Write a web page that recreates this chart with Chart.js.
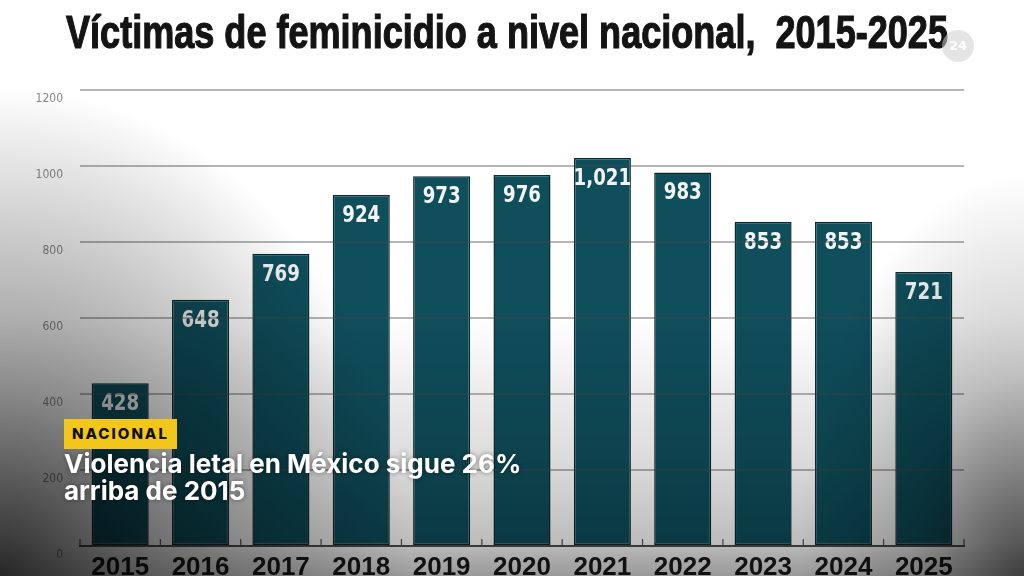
<!DOCTYPE html>
<html>
<head>
<meta charset="utf-8">
<script src="https://cdn.jsdelivr.net/npm/chart.js@4.4.1/dist/chart.umd.min.js"></script>
<style>
	html, body { margin: 0; padding: 0; background: #fff; }
	#wrap { position: relative; width: 1024px; height: 576px; overflow: hidden; background: #fff; }
	#chart { position: absolute; left: 0; top: 0; }
	#title {
		position: absolute; left: 66px; top: 5px; white-space: pre;
		font-family: "Liberation Sans Narrow", "Liberation Sans", sans-serif;
		font-weight: bold; font-size: 46px; color: #141414; transform-origin: 0 0;
		-webkit-text-stroke: 1.2px #141414;
	}
	#logo {
		position: absolute; left: 942px; top: 30px; width: 32px; height: 32px; border-radius: 50%;
		background: rgba(205,205,205,0.55); color: rgba(255,255,255,0.95);
		font: bold 13px "DejaVu Sans", sans-serif; text-align: center; line-height: 32px;
	}
	#shade {
		position: absolute; left: 0; top: 0; width: 1024px; height: 576px; pointer-events: none;
		background:
			radial-gradient(ellipse 40% 85% at 0% 100%, rgba(0,0,0,0.75) 0%, rgba(0,0,0,0.4) 40%, rgba(0,0,0,0) 100%),
			radial-gradient(ellipse 22% 70% at 100% 100%, rgba(0,0,0,0.6) 0%, rgba(0,0,0,0.2) 50%, rgba(0,0,0,0) 100%),
			linear-gradient(to top, rgba(0,0,0,0.4) 0%, rgba(0,0,0,0.26) 6%, rgba(0,0,0,0.14) 20%, rgba(0,0,0,0) 45%);
	}
	#tag {
		position: absolute; left: 64px; top: 419px; height: 30px; padding: 0 8px;
		background: #f3c61b; color: #111; font: 800 15px "Inter", "Noto Sans", sans-serif;
		letter-spacing: 2px; line-height: 30px;
	}
	#headline {
		position: absolute; left: 64px; top: 450px; color: #fff;
		font: 700 26px "Inter", "Noto Sans", sans-serif; line-height: 27px;
		text-shadow: 0 0 5px rgba(0,0,0,0.45);
	}
</style>
</head>
<body>
<div id="wrap">
	<canvas id="chart" width="1024" height="576"></canvas>
	<div id="title">Víctimas de feminicidio a nivel nacional,  2015-2025</div>
	<div id="logo">24</div>
	<div id="shade"></div>
	<div id="tag">NACIONAL</div>
	<div id="headline">Violencia letal en México sigue 26%<br>arriba de 2015</div>
</div>
<script>
	// data
	const years = ['2015', '2016', '2017', '2018', '2019', '2020', '2021', '2022', '2023', '2024', '2025'];
	const victims = [428, 648, 769, 924, 973, 976, 1021, 983, 853, 853, 721];
	const yTicks = [0, 200, 400, 600, 800, 1000, 1200];

	// squeeze the title to the width it has in the picture
	const title = document.getElementById('title');
	title.style.transform = 'scaleX(' + (882 / title.offsetWidth) + ')';

	// value labels inside the top of each bar
	const barLabels = {
		id: 'barLabels',
		afterDatasetsDraw(chart) {
			const ctx = chart.ctx;
			const meta = chart.getDatasetMeta(0);
			ctx.save();
			ctx.fillStyle = '#f4f4f4';
			ctx.font = 'bold 23px "DejaVu Sans Condensed", "DejaVu Sans", sans-serif';
			ctx.textAlign = 'center';
			ctx.textBaseline = 'middle';
			meta.data.forEach((bar, i) => {
				ctx.save();
				ctx.translate(bar.x, bar.y + 21);
				ctx.scale(0.88, 1);
				ctx.fillText(victims[i].toLocaleString('en-US'), 0, 0);
				ctx.restore();
			});
			ctx.restore();
		}
	};

	// small tick marks between the categories, standing on the axis line
	const axisTicks = {
		id: 'axisTicks',
		afterDraw(chart) {
			const x = chart.scales.x;
			const ctx = chart.ctx;
			const step = (x.right - x.left) / years.length;
			ctx.save();
			ctx.strokeStyle = '#555';
			ctx.lineWidth = 1.2;
			for (let i = 0; i <= years.length; i++) {
				const px = x.left + i * step;
				ctx.beginPath();
				ctx.moveTo(px, x.top);
				ctx.lineTo(px, x.top - 7);
				ctx.stroke();
			}
			ctx.restore();
		}
	};

	const ctx = document.getElementById('chart').getContext('2d');
	const myChart = new Chart(ctx, {
		type: 'bar',
		data: {
			labels: years,
			datasets: [
				{
					label: 'Víctimas de feminicidio',
					data: victims,
					backgroundColor: '#0f4e5b',
					borderColor: '#0a2c35',
					borderWidth: 1.5,
					borderSkipped: false,
					categoryPercentage: 1,
					barPercentage: 0.71
				}
			]
		},
		options: {
			responsive: false,
			animation: false,
			layout: { padding: { top: 90, right: 60, bottom: 0, left: 0 } },
			plugins: {
				legend: { display: false },
				tooltip: { enabled: false }
			},
			scales: {
				x: {
					grid: { display: false },
					border: { display: true, color: '#555', width: 2 },
					ticks: {
						color: '#1c1c1c',
						padding: -2,
						font: { family: '"Liberation Sans Narrow", "Liberation Sans", sans-serif', size: 26, weight: 'bold' }
					},
					afterFit(scale) { scale.height = 30; }
				},
				y: {
					min: 0,
					max: 1200,
					afterBuildTicks(scale) { scale.ticks = yTicks.map((v) => ({ value: v })); },
					grid: { color: 'rgba(70,70,70,0.4)', lineWidth: 2, drawTicks: false, z: 1 },
					border: { display: false },
					ticks: {
						color: '#8a8a8a',
						padding: 17,
						labelOffset: 9,
						callback: (v) => String(v),
						font: { family: '"DejaVu Sans Condensed", "DejaVu Sans", sans-serif', size: 12 }
					},
					afterFit(scale) { scale.width = 80; }
				}
			}
		},
		plugins: [barLabels, axisTicks]
	});
</script>
</body>
</html>
